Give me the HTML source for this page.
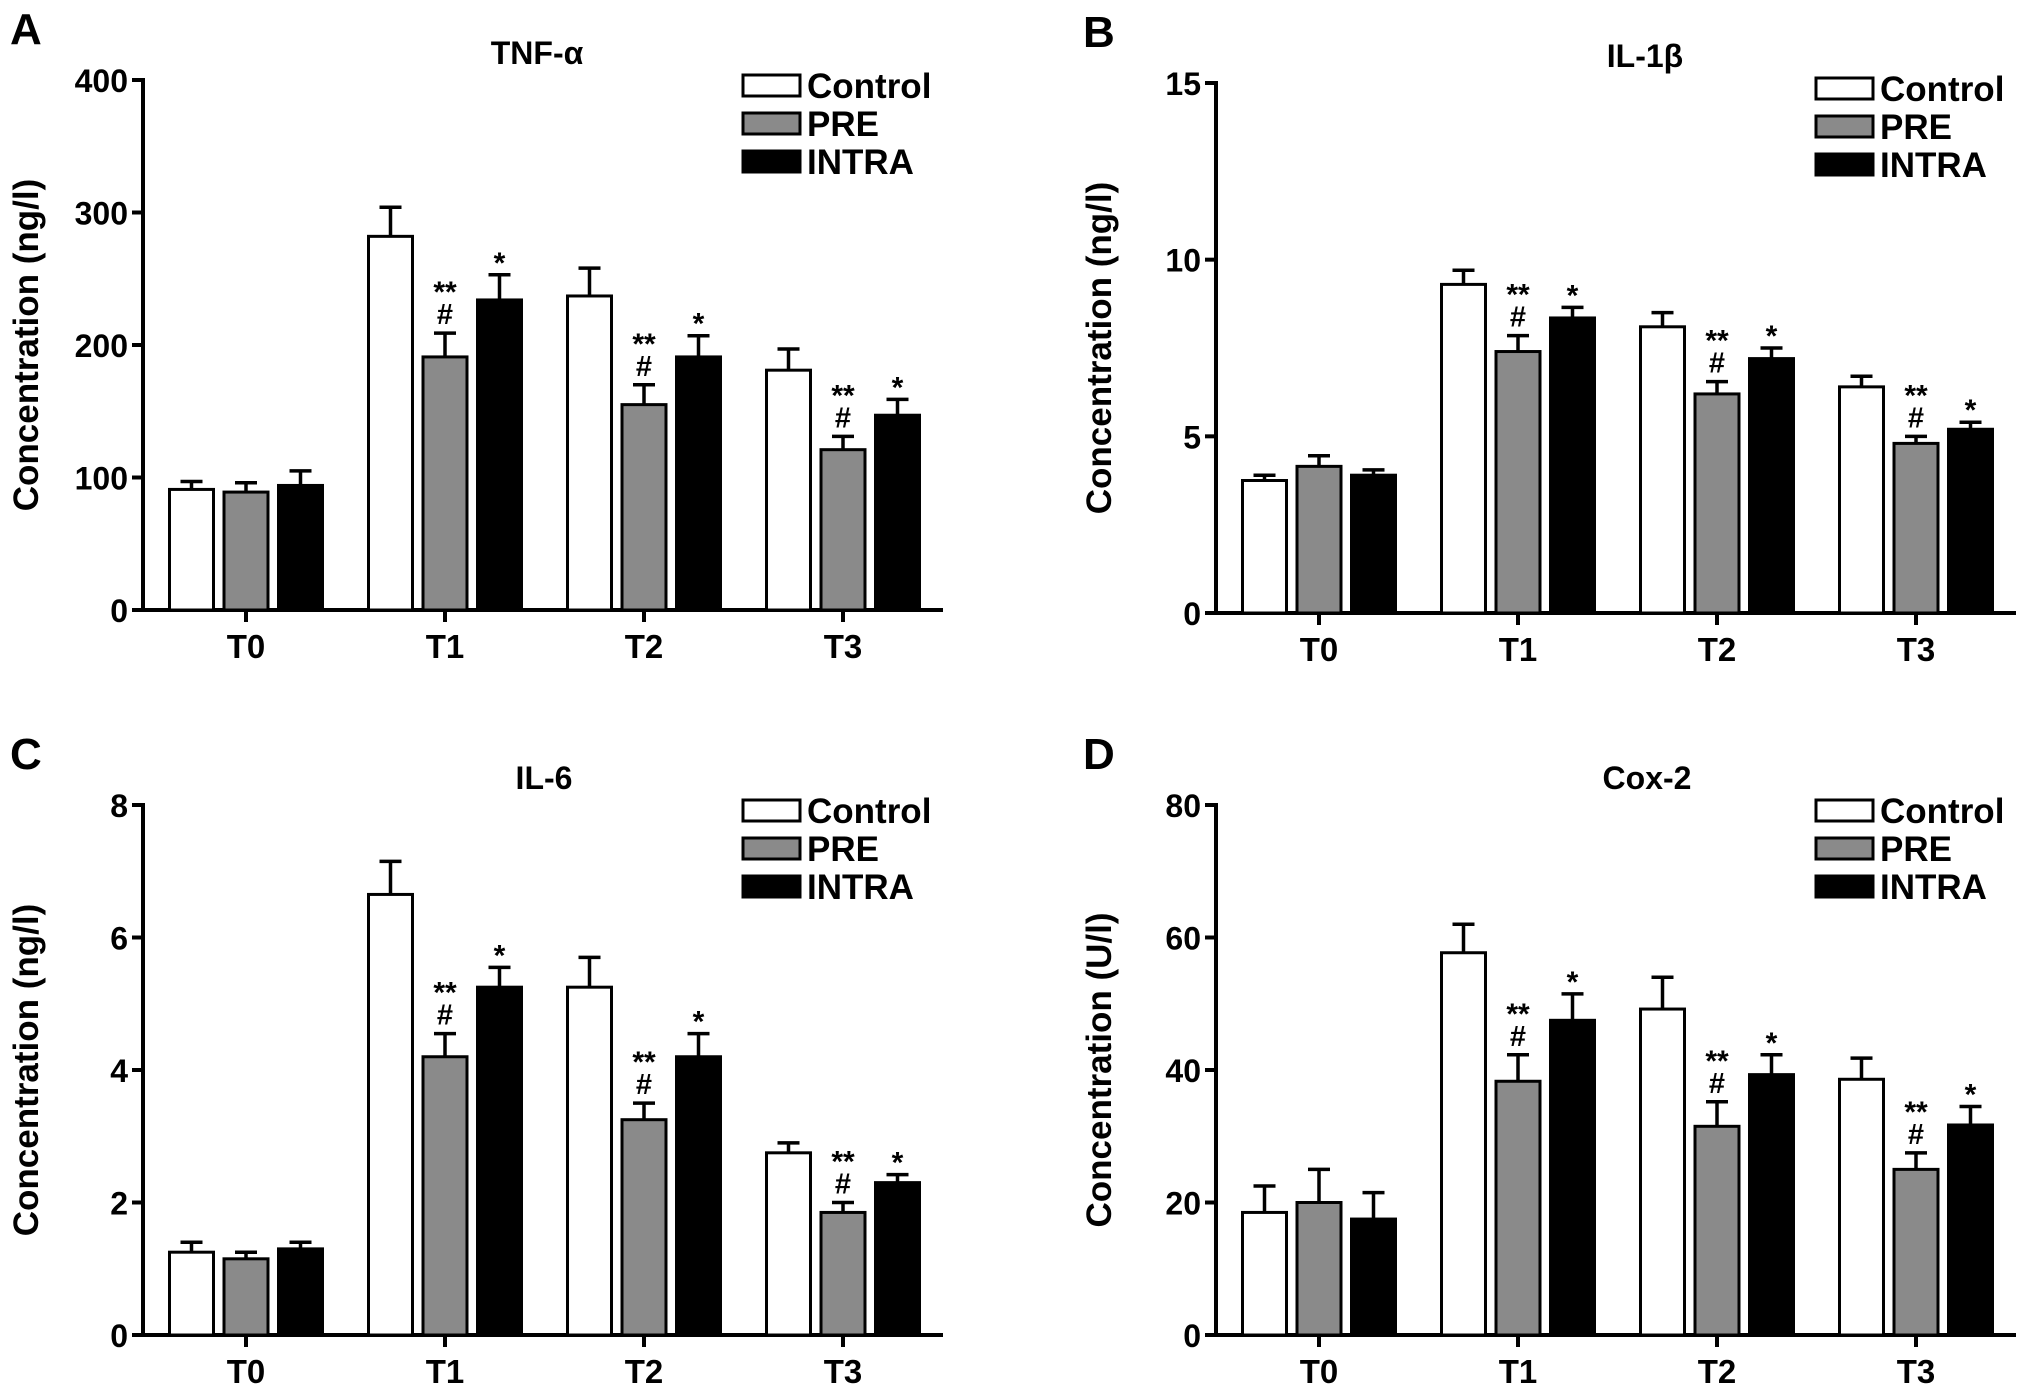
<!DOCTYPE html>
<html><head><meta charset="utf-8">
<style>
html,body{margin:0;padding:0;background:#fff;}
svg{display:block;font-family:"Liberation Sans",Arial,sans-serif;font-weight:bold;}
</style></head>
<body>
<svg id="fig" width="2031" height="1393" viewBox="0 0 2031 1393" xmlns="http://www.w3.org/2000/svg"></svg>
<script>
const categories = ["T0","T1","T2","T3"];
const seriesNames = ["Control","PRE","INTRA"];
const tnfControl = [91,282,237,181], tnfControlErr = [6,22,21,16];
const tnfPre = [89,191,155,121], tnfPreErr = [7,18,15,10];
const tnfIntra = [94,234,191,147], tnfIntraErr = [11,19,16,12];
const il1Control = [3.75,9.3,8.1,6.4], il1ControlErr = [0.15,0.4,0.4,0.3];
const il1Pre = [4.15,7.4,6.2,4.8], il1PreErr = [0.3,0.45,0.35,0.2];
const il1Intra = [3.9,8.35,7.2,5.2], il1IntraErr = [0.15,0.3,0.3,0.2];
const il6Control = [1.25,6.65,5.25,2.75], il6ControlErr = [0.15,0.5,0.45,0.15];
const il6Pre = [1.15,4.2,3.25,1.85], il6PreErr = [0.1,0.35,0.25,0.15];
const il6Intra = [1.3,5.25,4.2,2.3], il6IntraErr = [0.1,0.3,0.35,0.12];
const coxControl = [18.5,57.7,49.2,38.6], coxControlErr = [4,4.3,4.8,3.2];
const coxPre = [20,38.3,31.5,25], coxPreErr = [5,4,3.7,2.5];
const coxIntra = [17.5,47.5,39.3,31.7], coxIntraErr = [4,4,3,2.8];
const tnfTicks = [0,100,200,300,400];
const il1Ticks = [0,5,10,15];
const il6Ticks = [0,2,4,6,8];
const coxTicks = [0,20,40,60,80];
const preMarks = ["","**","**","**"];
const intraMarks = ["","*","*","*"];

const NS = "http://www.w3.org/2000/svg";
const svg = document.getElementById("fig");
function mk(tag, attrs, parent, text){
  const e = document.createElementNS(NS, tag);
  for (const k in attrs) e.setAttribute(k, attrs[k]);
  if (text !== undefined) e.textContent = text;
  (parent || svg).appendChild(e);
  return e;
}
const fills = ["#ffffff","#8a8a8a","#000000"];

function panel(ox, oy, letter, title, titleX, yTitle, ticks, ymax, vals, errs, key){
  const g = mk("g", {});
  
  
  const x0 = ox + 143, xEnd = ox + 943, yTop = oy + 80, yZero = oy + 610;
  const ys = v => yZero - v / ymax * (yZero - yTop);
  const cx = i => ox + 246 + i * 199;
  let t = mk("text", {x: ox + 10, y: oy + 44, "font-size": 44}, g, letter);
  
  
  t = mk("text", {x: ox + titleX, y: oy + 64, "font-size": 32, "text-anchor": "middle"}, g, title);
  
  
  t = mk("text", {x: 0, y: 0, "font-size": 35, "text-anchor": "middle", transform: `translate(${ox+38},${(yTop+yZero)/2}) rotate(-90)`}, g, yTitle);
  
  
  let a = mk("line", {x1: x0, y1: yTop - 2, x2: x0, y2: yZero + 2, stroke: "#000", "stroke-width": 4}, g);
  
  
  a = mk("line", {x1: ox + 133, y1: yZero, x2: xEnd, y2: yZero, stroke: "#000", "stroke-width": 4}, g);
  
  
  ticks.forEach(v => {
    const y = ys(v);
    mk("line", {x1: x0 - 11, y1: y, x2: x0, y2: y, stroke: "#000", "stroke-width": 4}, g);
    const tl = mk("text", {x: x0 - 15, y: y + 12, "font-size": 32, "text-anchor": "end"}, g, v);
    
    
  });
  categories.forEach((c, i) => {
    mk("line", {x1: cx(i), y1: yZero, x2: cx(i), y2: yZero + 12, stroke: "#000", "stroke-width": 4}, g);
    const tl = mk("text", {x: cx(i), y: yZero + 48, "font-size": 33, "text-anchor": "middle"}, g, c);
    
    
  });
  for (let s = 0; s < 3; s++){
    for (let i = 0; i < 4; i++){
      const bx = cx(i) + (s - 1) * 54.5 - 22;
      const v = vals[s][i], e = errs[s][i];
      const top = ys(v), etop = ys(v + e);
      const ec = bx + 22;
      mk("line", {x1: ec, y1: top, x2: ec, y2: etop, stroke: "#000", "stroke-width": 3.5}, g);
      mk("line", {x1: ec - 11, y1: etop, x2: ec + 11, y2: etop, stroke: "#000", "stroke-width": 3.5}, g);
      const r = mk("rect", {x: bx, y: top, width: 44, height: yZero - top, fill: fills[s], stroke: "#000", "stroke-width": 3}, g);
      
      
      if (s === 1 && preMarks[i]){
        const m1 = mk("text", {x: ec, y: etop - 9, "font-size": 29, "text-anchor": "middle"}, g, "#");
        
        
        const m2 = mk("text", {x: ec, y: etop - 31, "font-size": 30, "text-anchor": "middle"}, g, preMarks[i]);
        
        
      }
      if (s === 2 && intraMarks[i]){
        const m = mk("text", {x: ec, y: etop - 2, "font-size": 30, "text-anchor": "middle"}, g, intraMarks[i]);
        
        
      }
    }
  }
  seriesNames.forEach((n, s) => {
    const ly = oy + 75 + s * 38;
    const lg = mk("g", {}, g);
    
    
    mk("rect", {x: ox + 743, y: ly, width: 57, height: 21, fill: fills[s], stroke: "#000", "stroke-width": 3}, lg);
    mk("text", {x: ox + 807, y: ly + 23, "font-size": 35}, lg, n);
  });
}

panel(0, 0, "A", "TNF-\u03B1", 537, "Concentration (ng/l)", tnfTicks, 400,
  [tnfControl, tnfPre, tnfIntra], [tnfControlErr, tnfPreErr, tnfIntraErr], "tnf");
panel(1073, 3, "B", "IL-1\u03B2", 572, "Concentration (ng/l)", il1Ticks, 15,
  [il1Control, il1Pre, il1Intra], [il1ControlErr, il1PreErr, il1IntraErr], "il1b");
panel(0, 725, "C", "IL-6", 544, "Concentration (ng/l)", il6Ticks, 8,
  [il6Control, il6Pre, il6Intra], [il6ControlErr, il6PreErr, il6IntraErr], "il6");
panel(1073, 725, "D", "Cox-2", 574, "Concentration (U/l)", coxTicks, 80,
  [coxControl, coxPre, coxIntra], [coxControlErr, coxPreErr, coxIntraErr], "cox2");
</script>
</body></html>
